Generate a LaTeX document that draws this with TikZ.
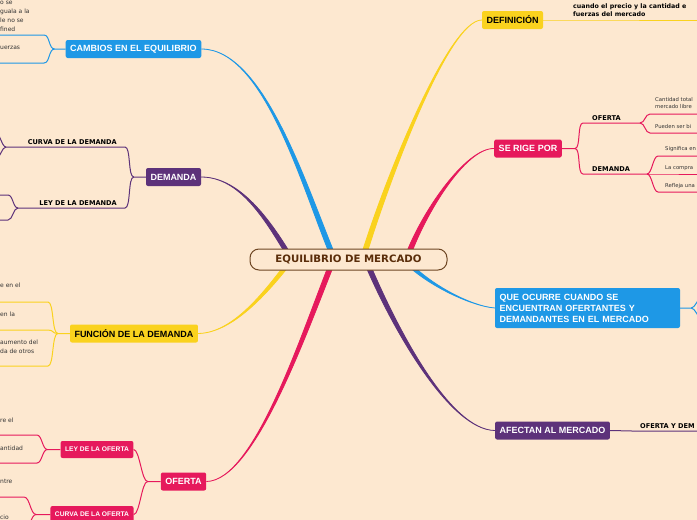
\documentclass[tikz,border=0pt]{standalone}
\usepackage{fontspec}
\setmainfont{Liberation Sans}
\newfontfamily\verd{DejaVu Sans}
\usetikzlibrary{calc, positioning}

\definecolor{paper}{RGB}{253,232,208}
\definecolor{mmblue}{RGB}{30,152,230}
\definecolor{mmyellow}{RGB}{250,210,30}
\definecolor{mmpink}{RGB}{230,25,92}
\definecolor{mmpurple}{RGB}{93,50,122}
\definecolor{mmbrown}{RGB}{110,70,35}
\definecolor{mmtext}{RGB}{90,45,10}
\pgfdeclarelayer{back}
\pgfsetlayers{back,main}

% tapered main branch: colour, end anchor, control near end, control near centre, start
\newcommand{\limb}[5]{%
  \filldraw[#1, line width=0.8pt] (#2) .. controls #3 and ($#4+(-2.6,0)$) .. ($#5+(-2.6,0)$)
    -- ($#5+(2.6,0)$) .. controls ($#4+(2.6,0)$) and #3 .. (#2) -- cycle;}

\tikzset{
  topic/.style={rounded corners=2pt, fill=#1, text=white, font=\bfseries\fontsize{9}{11}\selectfont,
    inner xsep=4.5pt, inner ysep=0pt, minimum height=18pt},
  subtopic/.style={rounded corners=2pt, fill=#1, text=white, font=\bfseries\fontsize{6.7}{8}\selectfont,
    inner xsep=4.5pt, inner ysep=0pt, minimum height=17pt},
  tag/.style={font=\verd\bfseries\fontsize{6.6}{8}\selectfont, text=black, inner xsep=8pt, inner ysep=2.5pt},
  note/.style={font=\verd\fontsize{6}{9}\selectfont, text=black!80, align=left, inner sep=0pt},
  smallnote/.style={font=\verd\fontsize{5.3}{7}\selectfont, text=black!80, align=left, inner sep=0pt},
  twig/.style={draw=#1, line width=1pt},
}

\begin{document}
\begin{tikzpicture}[x=1pt, y=-1pt]
  \useasboundingbox (0,0) rectangle (697,520);

  % centre and main topics
  \node[draw=mmbrown, line width=1pt, fill=paper, rounded corners=9pt, minimum width=197pt,
    minimum height=21pt, inner sep=0pt, text=mmtext, font=\verd\bfseries\fontsize{10.2}{12}\selectfont]
    (ctr) at (348.5,259.5) {EQUILIBRIO DE MERCADO};
  \node[topic=mmblue] (cambios) at (133.5,49) {CAMBIOS EN EL EQUILIBRIO};
  \node[topic=mmpurple] (demanda) at (173.5,177) {DEMANDA};
  \node[topic=mmyellow, text=black] (definicion) at (512.5,20) {DEFINICIÓN};
  \node[topic=mmpink] (serige) at (528,148.5) {SE RIGE POR};
  \node[topic=mmyellow, text=black] (funcion) at (134,333.5) {FUNCIÓN DE LA DEMANDA};
  \node[topic=mmpink] (oferta) at (183.5,481.5) {OFERTA};
  \node[topic=mmblue, text width=176pt, align=left, inner ysep=4.5pt, minimum height=40pt]
    (ocurre) at (587.5,308) {QUE OCURRE CUANDO SE\\ENCUENTRAN OFERTANTES Y\\DEMANDANTES EN EL MERCADO};
  \node[topic=mmpurple] (afectan) at (552.5,430.5) {AFECTAN AL MERCADO};

  % sub topics
  \node[subtopic=mmpink] (leyO) at (97,449.5) {LEY DE LA OFERTA};
  \node[subtopic=mmpink] (curvaO) at (92,514.5) {CURVA DE LA OFERTA};
  \node[tag, anchor=south east] (curvaD) at (125,147) {CURVA DE LA DEMANDA};
  \node[tag, anchor=south east] (leyD) at (125,208) {LEY DE LA DEMANDA};
  \node[tag, anchor=south west, inner xsep=9pt] (ofR) at (583,123) {OFERTA};
  \node[tag, anchor=south west, inner xsep=9pt] (dmR) at (583,174) {DEMANDA};
  \node[tag, anchor=south west, align=left, inner xsep=3pt, inner ysep=3pt,
    font=\verd\bfseries\fontsize{6.3}{8}\selectfont] (defTxt) at (570,20)
    {cuando el precio y la cantidad e\\fuerzas del mercado};
  \node[tag, anchor=south west] (afTag) at (632,431) {OFERTA Y DEM};

  % notes cut by the page edge
  \node[note, anchor=north west] (n1) at (0,0.5) {o se\\guala a la\\le no se\\fined};
  \node[note, anchor=west] (n2) at (0,48) {uerzas};
  \node[note, anchor=west] (n3) at (0,285.5) {e en el};
  \node[note, anchor=west] (n4) at (0,314) {en la};
  \node[note, anchor=west] (n5) at (0,346.5) {aumento del\\da de otros};
  \node[note, anchor=west] (n6) at (0,420.5) {re el};
  \node[note, anchor=west] (n7) at (0,448) {antidad};
  \node[note, anchor=west] (n8) at (0,481.5) {ntre};
  \node[note, anchor=west] (n9) at (0,517) {cio};
  \node[smallnote, anchor=west] (r1) at (655,103.5) {Cantidad total\\mercado libre};
  \node[smallnote, anchor=west] (r2) at (655,127) {Pueden ser bi};
  \node[smallnote, anchor=west] (r3) at (665,149) {Significa en};
  \node[smallnote, anchor=west] (r4) at (665,168) {La compra};
  \node[smallnote, anchor=west] (r5) at (665,186) {Refleja una};

  % free ends
  \coordinate (cbA) at (44,35);   \coordinate (cbB) at (44,63);
  \coordinate (cdEnd) at (6,147); \coordinate (ldEnd) at (18,208);
  \coordinate (fnA) at (48,302);  \coordinate (fnB) at (48,330);  \coordinate (fnC) at (48,366);
  \coordinate (loA) at (37,435);  \coordinate (loB) at (37,463);
  \coordinate (coA) at (24,497);  \coordinate (coB) at (24,531);
  \coordinate (ofEnd) at (640,123); \coordinate (dmEnd) at (647,174);
  \coordinate (roA) at (650,114); \coordinate (roB) at (650,133);
  \coordinate (rdA) at (658,156); \coordinate (rdB) at (658,174); \coordinate (rdC) at (658,192);

  \begin{pgfonlayer}{back}
    \fill[paper] (0,0) rectangle (697,520);
    \limb{mmblue}{cambios.east}{(265,49)}{(305,190)}{(ctr)+(-14,0)}
    \limb{mmpurple}{demanda.east}{(240,177)}{(268,220)}{(ctr)+(-57,0)}
    \limb{mmyellow}{definicion.west}{(448,20)}{(385,185)}{(ctr)+(14,0)}
    \limb{mmpink}{serige.west}{(465,148)}{(422,215)}{(ctr)+(58,0)}
    \limb{mmyellow}{funcion.east}{(235,333)}{(270,287)}{(ctr)+(-57,0)}
    \limb{mmpink}{oferta.east}{(255,481)}{(305,330)}{(ctr)+(-15,0)}
    \limb{mmpurple}{afectan.west}{(450,430)}{(395,330)}{(ctr)+(17,0)}
    \limb{mmblue}{ocurre.west}{(470,306)}{(425,283)}{(ctr)+(56,0)}
  \end{pgfonlayer}

  % cambios
  \draw[twig=mmblue] (cambios.west) -- ++(-11,0) coordinate (cbF)
    .. controls +(-6,0) and +(6,0) .. (cbA) -- ++(-48,0);
  \draw[twig=mmblue] (cbF) .. controls +(-6,0) and +(6,0) .. (cbB) -- ++(-48,0);
  % demanda
  \draw[twig=mmpurple] (demanda.west) -- ++(-12,0) coordinate (dmF)
    .. controls +(-6,0) and +(6,0) .. (curvaD.south east) -- (cdEnd);
  \draw[twig=mmpurple] (dmF) .. controls +(-6,0) and +(6,0) .. (leyD.south east) -- (ldEnd);
  \draw[twig=mmpurple] (cdEnd) .. controls +(-4,0) and +(3,0) .. ++(-9,-13);
  \draw[twig=mmpurple] (cdEnd) .. controls +(-4,0) and +(3,0) .. ++(-9,11);
  \draw[twig=mmpurple] (ldEnd) .. controls +(-5,0) and +(5,0) .. ++(-10,-13) -- ++(-10,0);
  \draw[twig=mmpurple] (ldEnd) .. controls +(-5,0) and +(5,0) .. ++(-10,12) -- ++(-10,0);
  % funcion
  \draw[twig=mmyellow] (funcion.west) -- ++(-12,0) coordinate (fnF)
    .. controls +(-6,0) and +(6,0) .. (fnA) -- ++(-51,0);
  \draw[twig=mmyellow] (fnF) .. controls +(-6,0) and +(6,0) .. (fnB) -- ++(-51,0);
  \draw[twig=mmyellow] (fnF) .. controls +(-6,0) and +(6,0) .. (fnC) -- ++(-51,0);
  % oferta
  \draw[twig=mmpink] (oferta.west) -- ++(-13,0) coordinate (ofF)
    .. controls +(-6,0) and +(6,0) .. (leyO.east);
  \draw[twig=mmpink] (ofF) .. controls +(-6,0) and +(6,0) .. (curvaO.east);
  \draw[twig=mmpink] (leyO.west) -- ++(-13,0) coordinate (loF)
    .. controls +(-5,0) and +(5,0) .. (loA) -- ++(-40,0);
  \draw[twig=mmpink] (loF) .. controls +(-5,0) and +(5,0) .. (loB) -- ++(-40,0);
  \draw[twig=mmpink] (curvaO.west) -- ++(-14,0) coordinate (coF)
    .. controls +(-6,0) and +(6,0) .. (coA) -- ++(-27,0);
  \draw[twig=mmpink] (coF) .. controls +(-6,0) and +(6,0) .. (coB) -- ++(-27,0);
  % se rige por
  \draw[twig=mmpink] (serige.east) -- ++(13,0) coordinate (srF)
    .. controls +(6,0) and +(-6,0) .. (ofR.south west) -- (ofEnd);
  \draw[twig=mmpink] (srF) .. controls +(6,0) and +(-6,0) .. (dmR.south west) -- (dmEnd);
  \draw[twig=mmpink] (ofEnd) .. controls +(5,0) and +(-5,0) .. (roA) -- ++(50,0);
  \draw[twig=mmpink] (ofEnd) .. controls +(5,0) and +(-5,0) .. (roB) -- ++(50,0);
  \draw[twig=mmpink] (dmEnd) .. controls +(5,0) and +(-5,0) .. (rdA) -- ++(42,0);
  \draw[twig=mmpink] (dmEnd) -- (rdB) -- ++(42,0);
  \draw[twig=mmpink] (dmEnd) .. controls +(5,0) and +(-5,0) .. (rdC) -- ++(42,0);
  % definicion, ocurre, afectan
  \draw[twig=mmyellow] (definicion.east) -- (defTxt.south west) -- ++(140,0);
  \draw[twig=mmblue] (ocurre.east) -- ++(11,0) coordinate (ocF)
    .. controls +(4,0) and +(-3,0) .. ++(9,-9);
  \draw[twig=mmblue] (ocF) .. controls +(4,0) and +(-3,0) .. ++(9,9);
  \draw[twig=mmpurple] (afectan.east) -- (afTag.south west) -- ++(80,0);
\end{tikzpicture}
\end{document}
